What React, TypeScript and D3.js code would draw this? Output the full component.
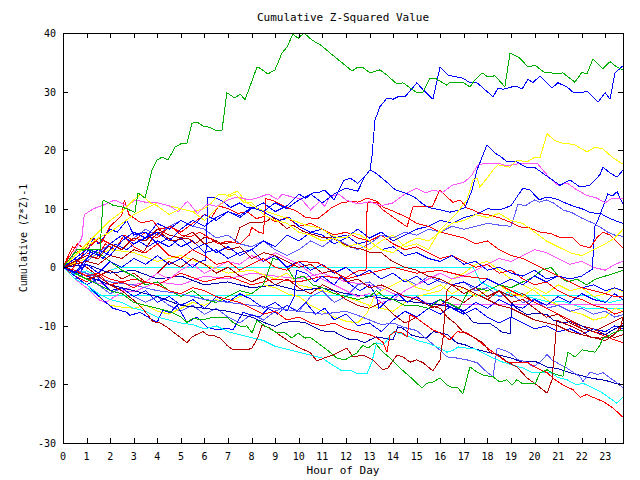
import React, { useEffect } from "react";
import * as d3 from "d3";

type Pt = [number, number];

const hourTicks: number[] = d3.range(0, 24);
const valueTicks: number[] = [-30, -20, -10, 0, 10, 20, 30, 40];
const titleText = "Cumulative Z-Squared Value";
const xLabel = "Hour of Day";
const yLabel = "Cumulative (Z*Z)-1";

const green1: Pt[] = [[0,0],[0.59,3],[1.57,3],[1.7,11.5],[2.12,10.6],[2.5,10.3],[3.05,9.4],[3.18,12.7],[3.48,11.8],[3.77,16.6],[3.99,18.3],[4.2,18.8],[4.45,18.3],[4.75,20.5],[5.05,21.2],[5.26,21.2],[5.47,24.6],[5.68,24.8],[5.94,24.1],[6.23,23.9],[6.53,23.3],[6.74,23.3],[6.95,29.8],[7.29,28.9],[7.51,29.6],[7.72,28.6],[8.23,34.2],[8.35,34],[8.69,33],[8.99,33.7],[9.29,36.6],[9.5,37.6],[9.75,39.8],[9.97,39.1],[10.22,40],[10.56,38.8],[10.98,37.8],[11.32,36.6],[11.75,35.2],[12.26,33.5],[12.47,34.1],[12.72,34.1],[13.02,33.2],[13.44,33.7],[13.74,32.8],[14.16,31.3],[14.42,31.5],[15.01,29.8],[15.27,29.9],[15.56,32.3],[15.78,32.3],[16.28,31.1],[16.41,31.6],[16.96,31.6],[17.26,30.8],[17.47,32],[17.77,33.2],[18.02,32.5],[18.32,32.7],[18.74,30.8],[18.96,36.6],[19.38,35.7],[19.72,34.2],[20.02,34.5],[20.44,33.2],[20.65,33.3],[20.87,33],[21.2,33.2],[21.71,31.6],[22.01,33.3],[22.22,33],[22.48,35.6],[22.9,33.9],[23.2,35.1],[23.49,34.2],[23.75,33.7]];
const blue1: Pt[] = [[0,0],[0.5,1.5],[1,3],[1.5,2],[2,4],[2.5,5.5],[3,4],[3.5,5],[4,6],[4.5,4.5],[5,6.5],[5.5,8],[6,7],[6.5,8.5],[7,9.5],[7.5,8.8],[8,10.2],[8.5,9.5],[9,11],[9.5,10],[10,11.5],[10.5,12.5],[11,11],[11.5,12.5],[12,13.5],[12.5,13],[12.8,15.5],[13.02,16.6],[13.1,18.8],[13.23,25.1],[13.44,27.4],[13.74,28.9],[14,28.7],[14.2,29.1],[14.5,29.1],[15.01,31.5],[15.27,30.3],[15.69,28.7],[15.99,34.2],[16.33,32.8],[16.96,32.3],[17.26,31.5],[17.56,31.5],[18.24,29.1],[18.45,30.6],[18.66,30.4],[19.04,30.8],[19.3,30.8],[19.47,30.4],[19.72,32.1],[19.93,31.5],[20.23,32.7],[20.74,30.6],[20.99,31.5],[21.37,30.8],[21.63,29.9],[22.01,29.8],[22.22,30.1],[22.69,28.2],[22.99,29.8],[23.2,28.7],[23.41,33.2],[23.75,34.4]];
const yellow1: Pt[] = [[0,0],[0.5,2],[1,4],[1.5,6],[2,8],[2.5,9.5],[3,11.5],[3.3,12.5],[3.7,11],[4,10.5],[4.5,9],[5,10],[5.5,9.5],[6,8],[6.5,10],[7,12],[7.3,12.5],[7.7,11],[8,11],[8.5,9],[9,8],[9.5,7.5],[10,6],[10.5,5.5],[11,4.5],[11.5,5],[12,3.5],[12.5,4],[13,3],[13.5,4.5],[14,5.5],[14.5,3.5],[15,4],[15.5,3],[15.99,6.4],[16.41,8.1],[16.71,9.3],[17.13,11.5],[17.39,14.9],[17.56,15.2],[17.68,13.7],[17.98,15.2],[18.24,16.6],[18.45,17.5],[18.96,17.1],[19.25,18.3],[19.68,18],[20.02,18.8],[20.23,18.7],[20.53,22.8],[20.87,21.6],[21.16,21.2],[21.42,21.1],[21.71,20.9],[22.22,19.7],[22.56,20.5],[22.9,20.2],[23.32,18.7],[23.75,17.6]];
const magenta1: Pt[] = [[0,0],[0.4,2],[0.8,5],[0.9,9],[1.3,10],[1.7,10.6],[2.2,11.5],[2.7,10.5],[3.1,11.5],[3.6,11],[4,11],[4.5,10.5],[4.9,9.5],[5.2,11],[5.3,11.2],[5.7,9.2],[6.1,10.8],[6.5,10.4],[7,11.5],[7.4,12],[7.9,11.5],[8.2,11.8],[8.7,12.5],[9.1,11.6],[9.3,12.5],[9.7,12],[10.1,11.7],[10.5,9.8],[10.9,11.3],[11.1,10.4],[11.3,12],[11.7,12.5],[12,11.5],[12.5,10.8],[13,11.2],[13.5,10.5],[14,11],[14.5,12.5],[15,13.5],[15.4,12.7],[15.7,13.2],[16.1,12.8],[16.5,14],[17,14.5],[17.3,15.5],[17.6,17.5],[18,17.8],[18.45,17.8],[18.8,17.3],[19.2,17.6],[19.5,17.8],[20.1,17.8],[20.65,15.2],[21,14],[21.37,14.4],[21.8,13.2],[22.2,12.3],[22.65,11.8],[23,11],[23.28,11.8],[23.75,11.8]];
const blue2: Pt[] = [[0,0],[0.5,-1],[1,1.5],[1.5,3],[2,2],[2.5,4.5],[3,6],[3.5,5],[4,7.5],[4.5,6.5],[5,8],[5.5,7],[6,9],[6.5,8],[7,9.5],[7.5,8.5],[8,10],[8.5,11],[9,9.5],[9.5,10.5],[10,12.5],[10.3,11.8],[10.6,12.7],[10.8,12.7],[11.1,13.2],[11.5,11.5],[11.9,14.8],[12.2,15.2],[12.5,14.3],[12.9,16],[13.02,16.6],[13.3,16],[13.8,14.3],[14.1,13.2],[14.5,12.7],[14.9,12],[15.2,11],[15.5,10.2],[16,9.8],[16.4,9.4],[16.8,9.8],[17.05,10.2],[17.35,13.2],[17.56,16.6],[17.98,20.9],[18.32,19.5],[18.53,19],[18.83,18],[19.25,18],[19.68,17],[20.02,17],[20.65,15.2],[21.08,14],[21.5,14.9],[21.93,13.7],[22.35,14],[22.77,15.8],[22.9,17.1],[23.2,16.1],[23.5,15.4],[23.75,16.6]];
const darkred1: Pt[] = [[0,0],[0.5,-1],[1,-2],[1.5,-1.5],[2,-3],[2.5,-4],[3.14,-6.1],[3.35,-6.9],[3.82,-9.3],[4.11,-9.5],[4.41,-10.2],[4.66,-11],[4.96,-11.9],[5.26,-12.9],[5.47,-11.9],[5.6,-11.6],[5.94,-11],[6.15,-11.6],[6.36,-11.6],[6.66,-12.1],[6.95,-13.3],[7.21,-14.1],[7.8,-14.1],[8.02,-13.8],[8.27,-11.9],[8.44,-9.9],[8.78,-10.4],[9.2,-11.6],[9.63,-12.8],[10.05,-13.8],[10.47,-14.5],[10.77,-16],[11.2,-15.3],[11.45,-15],[12.04,-13.8],[12.3,-15.3],[12.72,-15],[13.15,-15.8],[13.57,-17.5],[13.78,-17.2],[14.16,-15],[14.42,-15.3],[14.72,-16.2],[15.01,-15.8],[15.27,-16.3],[15.69,-17.7],[15.99,-15.8],[16.12,-11.9],[16.2,-7.3],[16.29,-3.9],[16.5,-3],[17,-4.5],[17.5,-3.5],[18,-5],[18.5,-4],[19,-6],[19.5,-5.5],[20,-7],[20.5,-8.5],[21,-8],[21.5,-9.5],[22,-10.5],[22.5,-11],[23,-10],[23.5,-9],[23.75,-8.5]];
const darkred2: Pt[] = [[0,0],[0.5,1],[1,2],[1.5,1.5],[2,4],[2.5,3],[3,5],[3.5,4.5],[4,6.5],[4.5,5.5],[5,5],[5.5,6],[6,4],[6.5,4.5],[7,3],[7.5,3.5],[8,1.5],[8.5,2.5],[9,2],[9.5,1],[10,0],[10.5,0.5],[11,-1],[11.5,-0.5],[12,-2.5],[12.5,-2],[13,-3.5],[13.5,-3],[14,-4],[14.5,-5],[15,-5.5],[15.5,-6.5],[16,-7],[16.29,-8.5],[16.62,-9.5],[16.96,-11],[17.39,-11.9],[17.81,-12.9],[18.11,-14.5],[18.45,-15],[18.87,-16.2],[19.25,-17],[19.68,-18.9],[20.1,-20.1],[20.53,-21.5],[20.74,-19.2],[20.95,-9],[21.2,-9.5],[21.63,-10.2],[22.05,-11],[22.35,-11.9],[22.77,-12.1],[23.2,-11.9],[23.62,-10.7],[23.75,-8.5]];
const darkred3: Pt[] = [[0,0],[0.5,0.5],[1,1],[1.5,0.5],[2,2],[2.5,1.5],[3,3],[3.4,2.5],[3.8,5],[4.1,6],[4.6,4.5],[5.3,5],[5.6,4],[6,5.1],[6.3,4.9],[6.7,4],[7.3,4.3],[7.5,6.8],[7.9,7.6],[8.35,7.6],[8.65,7.9],[8.9,8.5],[9.2,7.6],[9.5,6.6],[9.75,7.2],[10.2,6.1],[10.6,5.6],[11,5.1],[11.4,5],[11.8,4.2],[12.2,3.4],[12.6,3.2],[13,2.6],[13.5,2.5],[13.9,1.2],[14.5,0],[15,-0.5],[15.5,-1.5],[16,-2],[16.5,-3],[17,-3.5],[17.5,-4.5],[18,-5.5],[18.5,-6.5],[19,-7],[19.5,-8],[20,-9],[20.5,-9.5],[21,-10],[21.5,-11],[22,-11.5],[22.5,-12],[23,-12.5],[23.4,-11.5],[23.75,-9.5]];
const darkred4: Pt[] = [[0,0],[0.5,1.5],[1,0],[1.5,-1.5],[2,-0.5],[2.5,-2],[3,-1],[3.5,-2.5],[4,-1],[4.5,1],[5,0],[5.5,1.5],[6,0.5],[6.5,-1],[7,0],[7.5,-1.5],[8,-2.5],[8.5,-1.5],[9,-3],[9.5,-2],[10,-3.5],[10.5,-4.5],[11,-3],[11.5,-4],[12,-5.5],[12.5,-6.5],[13,-7],[13.5,-6],[14,-8],[14.5,-9.5],[15,-8.5],[15.5,-7],[16,-6.5],[16.5,-5],[17,-6],[17.5,-4.5],[18,-5.5],[18.5,-4],[19,-5],[19.5,-4.5],[20,-6],[20.5,-7],[21,-8],[21.5,-9],[22,-10],[22.5,-10.5],[23,-11.5],[23.4,-12],[23.75,-11.5]];
const red1: Pt[] = [[0,0],[0.5,-0.5],[1,-1.5],[1.5,-1],[2,-2],[2.5,-2.5],[3,-3.5],[3.5,-2.5],[4,-3],[4.5,-4],[5,-4.5],[5.5,-3.5],[6,-4],[6.5,-5],[7,-5.5],[7.5,-6],[8,-7],[8.5,-8],[9,-7.5],[9.5,-9],[10,-8.5],[10.5,-9.5],[11,-10],[11.5,-9.5],[12,-10.5],[12.5,-11],[13,-11.5],[13.3,-12],[13.57,-12.8],[13.74,-14.5],[13.87,-11.6],[14.08,-11],[14.38,-11.2],[14.59,-11.9],[14.72,-8.1],[15.01,-8.7],[15.27,-9.5],[15.69,-10.7],[15.99,-11.2],[16.41,-12.4],[16.71,-11],[17.13,-11.2],[17.56,-12.4],[17.98,-13.7],[18.41,-15],[18.83,-16.2],[19.25,-16.3],[19.68,-16.2],[20.1,-17.2],[20.53,-18],[20.87,-19.2],[21.2,-20.1],[21.63,-20.9],[21.93,-22.2],[22.22,-21.7],[22.48,-22.2],[22.9,-22.9],[23.32,-24],[23.75,-25.6]];
const red2: Pt[] = [[0,0],[0.3,2],[0.6,4],[1,3],[1.5,5],[2,4],[2.5,5.5],[3,3.5],[3.5,2.5],[4,4],[4.5,2],[5,1.5],[5.5,3],[6,2],[6.5,0.5],[7,1],[7.5,-0.5],[8,0.5],[8.5,1.5],[9,0],[9.5,-0.5],[10,1],[10.8,0.8],[11.5,-0.8],[12,-1.8],[12.3,-1],[12.6,-0.5],[12.85,-0.5],[12.9,11],[13.3,11],[13.57,9.8],[14.16,8.1],[14.59,6.9],[14.84,10.3],[15.27,10.3],[15.65,10.3],[15.99,13.2],[16.28,12],[16.54,11.1],[16.84,11.5],[17.13,10.1],[17.39,9.8],[17.68,9.2],[18.11,8.9],[18.53,8.4],[18.96,7.7],[19.38,6.9],[19.8,6.7],[20.23,6],[20.65,5.8],[21.08,5.1],[21.63,5],[21.93,3.8],[22.35,3.3],[22.65,5.1],[22.9,6],[23.2,5.5],[23.49,4.3],[23.75,3.3]];
const red3: Pt[] = [[0,0],[0.4,3.5],[0.8,2],[1.2,5],[1.6,4],[2,7],[2.4,8.5],[2.5,9],[2.6,11.5],[2.8,9],[3.3,7.6],[3.8,8],[4.1,6.5],[4.6,7],[5,5.5],[5.4,5.2],[5.8,6],[6.2,5],[6.6,4],[7,4.5],[7.5,4],[7.9,5.5],[8,6.8],[8.3,6],[8.5,5.8],[8.6,11.7],[8.9,11.4],[9.5,10.2],[9.9,9.6],[10.3,8.5],[10.8,8.3],[11.1,9.2],[11.4,10.2],[11.8,11],[12.3,11.3],[12.5,11.1],[12.9,11.8],[13.3,11.3],[13.6,10.2],[14,9.6],[14.6,8.5],[15,7.5],[15.5,7],[16,6],[16.5,5.5],[17,5],[17.5,4],[18,4.5],[18.5,3],[19,2],[19.5,1.5],[20,0.5],[20.5,-0.5],[21,-1.5],[21.5,-2.5],[22,-3.5],[22.5,-4],[23,-4.5],[23.4,-5],[23.75,-5]];
const red4: Pt[] = [[0,0],[0.5,-1.5],[1,-2.5],[1.5,-1],[2,-3],[3,-2],[4,-3],[5,-1],[6,-2.5],[7,-1.5],[8,-3],[9,-2],[10,-2.5],[11,-1.5],[12,-2],[13,-1],[14,0],[15,-1],[16,-0.5],[17,-1.5],[18,-2],[18.5,-3],[19,-4],[19.5,-5],[20,-6],[20.5,-7],[21,-8],[21.5,-9],[22,-10.5],[22.5,-11],[23,-11.8],[23.4,-12.4],[23.75,-12.9]];
const red5: Pt[] = [[0,0],[0.3,-1],[0.6,1],[1,2.5],[1.4,1.5],[1.8,4],[2.2,3],[2.6,5.5],[3,4.5],[3.5,6],[4,5],[4.5,7],[5,6],[5.5,7.5],[6,9],[6.3,8.5],[6.6,10.5],[7,10],[7.4,9.2],[7.8,9.5],[8.2,8.3],[8.6,8.8],[9,7.8],[9.5,8.5],[10,7],[10.5,7.5],[11,6.5],[11.5,5.5],[12,6],[12.5,5],[13,4.5],[13.5,5.5],[14,4],[14.5,3],[15,3.5],[15.5,2.5],[16,1.5],[16.5,2],[17,1],[17.5,0],[18,0.5],[18.5,-1],[19,-0.5],[19.5,-2],[20,-3],[20.5,-2.5],[21,-4],[21.5,-5],[22,-5.5],[22.5,-6.5],[23,-7],[23.4,-8],[23.75,-7.5]];
const cyan1: Pt[] = [[0,0],[0.5,-2],[1,-3],[1.5,-4.5],[2,-5.5],[2.5,-6],[3,-7],[3.5,-7.5],[4,-8.5],[4.5,-9],[5,-9.5],[5.5,-9.8],[6,-10.5],[6.5,-10],[7,-11],[7.5,-11.5],[8,-12],[8.5,-12.5],[9,-13.5],[9.5,-14],[10,-14.5],[10.5,-15],[11,-15.5],[11.4,-16.6],[11.8,-17.6],[12.2,-17.6],[12.5,-18.2],[12.9,-18.1],[13.1,-16.2],[13.3,-12.9],[13.6,-13.2],[14,-11],[14.5,-11.5],[15,-12.5],[15.5,-13],[15.99,-13.8],[16.28,-14.5],[16.54,-14.2],[16.75,-13.6],[17.13,-13.8],[17.39,-13.8],[17.81,-14.6],[18.24,-15.5],[18.66,-16.2],[19.08,-16.7],[19.5,-17.2],[19.93,-18],[20.23,-18],[20.65,-17.9],[20.99,-18.8],[21.37,-19.2],[21.8,-20.1],[22.05,-19.8],[22.48,-20.6],[22.9,-21.5],[23.49,-23.2],[23.75,-22.2]];
const cyan2: Pt[] = [[0,0],[0.5,-1.2],[1,-0.6],[1.5,-1.5],[2,-0.5],[2.4,0],[17.4,0],[17.7,-2.5],[18.2,-3.5],[18.7,-4.5],[19.2,-4],[19.7,-5],[20.2,-5.5],[20.7,-6],[21.2,-5.8],[21.7,-6.5],[22.2,-7],[22.6,-7.1],[23.75,-7.1]];
const cyan3: Pt[] = [[0,0],[0.5,-2],[1,-3.5],[1.5,-4.8],[22.4,-4.8],[22.7,-5.5],[23.2,-6],[23.75,-5.5]];
const lightblue1: Pt[] = [[0,0],[1,-1],[2,-2.5],[3,-3],[4,-4],[5,-4.5],[6,-5.5],[7,-6],[8,-6.5],[9,-7],[10,-7.5],[11,-8],[12,-7.5],[12.5,-8.2],[13,-9],[13.5,-9.8],[14,-9.5],[14.5,-10.3],[15,-10.8],[15.5,-12.5],[16,-14.2],[16.28,-15.3],[16.71,-15.5],[17.13,-15.8],[17.56,-16.3],[17.98,-17.9],[18.24,-18.7],[18.41,-13.8],[18.66,-14.1],[18.96,-14.6],[19.3,-15.8],[19.68,-16.2],[19.93,-17],[20.23,-16.2],[20.53,-14.9],[20.74,-15.8],[20.95,-16.3],[21.37,-17.2],[21.63,-17.9],[21.93,-18.7],[22.05,-19.5],[22.35,-17.9],[22.65,-18.3],[22.9,-18],[23.2,-18.9],[23.49,-19.7],[23.75,-20.6]];
const lightblue2: Pt[] = [[0,0],[0.5,-1],[1,1],[1.5,2.5],[2,4],[2.5,3],[3,5],[3.5,6.5],[4,5.5],[4.5,7],[5,8],[5.5,7],[6,6.5],[6.5,5],[7,5.5],[7.5,4],[8,3.5],[8.5,4.5],[9,3],[9.5,2],[10,3],[10.5,4.5],[11,3.5],[11.5,5],[12,4],[12.5,3],[13,4],[13.5,5.5],[14,5],[14.5,6],[15,5.5],[15.5,6.5],[16,6],[16.5,7],[17,6.5],[17.5,7],[18,7.5],[18.5,7.2],[19,7],[19.3,10.8],[19.6,10.5],[20,11.5],[20.2,11.1],[20.5,11.5],[20.8,11],[21.2,9.8],[21.6,9.3],[22,8.4],[22.5,7.5],[22.8,6.8],[23.1,6],[23.4,5.5],[23.75,5.3]];
const lightblue3: Pt[] = [[0,0],[0.5,-2],[1,-1],[1.5,-3],[2,-4.5],[2.5,-3.5],[3,-5],[3.5,-6],[4,-5],[4.5,-6.5],[5,-7.5],[5.5,-6.5],[6,-8],[6.5,-7],[7,-8.5],[7.5,-9.5],[8,-8],[8.5,-9],[9,-7.5],[9.5,-6.5],[10,-7.5],[10.5,-5],[11,-4],[11.5,-6],[12,-5],[12.5,-3],[13,-2.5],[13.5,-4],[14,-3],[14.5,-2],[15,-3],[15.5,-1.5],[16,-2.5],[16.5,-3],[17,-2.5],[17.5,-4],[18,-3.5],[18.5,-5],[19,-4.5],[19.5,-6],[20,-5.5],[20.5,-7],[21,-6.5],[21.5,-7.5],[22,-7],[22.5,-8],[23,-7.5],[23.4,-8.5],[23.75,-8.1]];
const navy1: Pt[] = [[0,0],[1,-1.5],[2,-3],[3,-4],[4,-5],[5,-6.5],[6,-7],[7,-7.5],[8,-8.5],[8.4,-9.2],[8.7,-9.7],[9,-10.1],[9.3,-9.5],[9.6,-9.3],[10,-9.3],[10.3,-9.5],[10.6,-10.1],[10.9,-10.7],[11.2,-11],[11.5,-11],[11.9,-11.9],[12.2,-12.4],[12.5,-12.4],[12.8,-12.9],[13,-12.4],[13.3,-11.9],[13.6,-12.1],[14,-12.4],[14.2,-10.2],[14.4,-10.4],[14.8,-11.6],[15.1,-11.9],[15.4,-12.1],[15.7,-11],[16,-11.2],[16.3,-11.5],[16.7,-12.9],[17.1,-13.3],[17.5,-14],[18,-14.5],[18.5,-15],[19,-15.5],[19.5,-16.2],[20,-16],[20.5,-17],[21,-17.3],[21.5,-18],[22,-18.5],[22.5,-19],[23,-19.3],[23.4,-19.8],[23.75,-20]];
const navy2: Pt[] = [[0,0],[1,0.5],[2,-1],[3,-0.5],[4,-2],[5,-1.5],[6,-3],[7,-2.5],[8,-3.5],[9,-3],[10,-4],[11,-3.5],[12,-4.5],[13,-5],[14,-5.5],[15,-6],[15.99,-6.4],[16.41,-6.8],[16.84,-7.3],[17.13,-8.1],[17.39,-9.4],[17.68,-9.6],[18.11,-9.6],[18.41,-10.4],[18.62,-11.1],[18.96,-11.3],[19.04,-6.2],[19.25,-7],[19.68,-8.1],[20.1,-7.8],[20.53,-8.1],[20.78,-9],[21.08,-9.4],[21.29,-9.4],[21.5,-9.3],[22,-10],[22.5,-11],[23,-11.5],[23.4,-10.5],[23.75,-10]];
const green2: Pt[] = [[0,0],[0.5,-1],[1,-2],[1.5,-3],[2,-4],[2.5,-4.5],[3,-6],[3.5,-6.5],[4,-7],[4.5,-7.5],[5,-8.5],[5.26,-9.4],[5.51,-8.7],[5.94,-9],[6.36,-8.5],[6.95,-8.5],[7.21,-9.4],[7.59,-10.2],[7.8,-10],[8.02,-11.2],[8.23,-9],[8.48,-9.8],[9.08,-11.2],[9.41,-11.2],[9.71,-12.1],[9.97,-11.2],[10.26,-12.1],[10.47,-11.9],[10.77,-12.8],[11.2,-14.1],[11.62,-15.5],[11.96,-15.8],[12.17,-15.3],[12.47,-14.6],[12.72,-13.3],[12.93,-13.8],[13.23,-12.9],[13.57,-14.5],[13.87,-15.5],[14.29,-17.2],[14.72,-18.7],[15.22,-20.6],[15.44,-19.8],[15.69,-19.6],[15.99,-18.9],[16.28,-20.1],[16.54,-20.6],[16.75,-20.6],[16.96,-21.6],[17.26,-17],[17.56,-17.9],[17.81,-18.4],[18.24,-18.7],[18.53,-19.6],[18.83,-19.2],[19.04,-20.1],[19.25,-19.2],[19.5,-19.9],[20.02,-19.9],[20.23,-18],[20.53,-17.5],[20.74,-18],[20.99,-18.4],[21.2,-18.6],[21.42,-14.5],[21.71,-15.3],[22.01,-14.1],[22.56,-14.5],[22.77,-13.3],[22.9,-12.1],[23.07,-11.9],[23.32,-11.2],[23.75,-10.7]];
const green3: Pt[] = [[0,0],[0.5,2.5],[1,3],[1.5,2.5],[2,1],[2.5,-0.5],[3,-1.5],[3.5,-3],[4,-2.5],[4.5,-4],[5,-5],[5.5,-4],[6,-5.5],[6.5,-6],[7,-5],[7.5,-4],[8,-4.5],[8.5,-3],[8.9,1.5],[9.2,1.2],[9.5,0],[9.8,-2],[10.2,-1.5],[10.6,-3],[11,-3.5],[11.5,-4.5],[12,-5],[12.5,-5.5],[13,-5],[13.3,-4],[13.6,-5],[14,-5.5],[14.5,-6.5],[15,-6.5],[15.5,-7],[16,-5.5],[16.3,-6],[16.8,-7],[17.2,-4],[17.5,-3.5],[18,-4],[18.5,-3],[19,-3.5],[19.5,-2.5],[20,-1.5],[20.3,-0.5],[20.7,0],[21,-1.5],[21.4,-2.5],[21.8,-2],[22.2,-3],[22.6,-2],[23,-1.5],[23.4,-1],[23.75,-0.5]];
const yellow2: Pt[] = [[0,0],[0.5,-1.5],[1,-3],[1.5,-5],[2,-6.5],[2.5,-6.8],[3,-7],[3.5,-6.5],[4,-7.5],[4.5,-8],[5,-7],[5.5,-6],[6,-6.5],[6.5,-5.5],[7,-6],[7.5,-5],[8,-4.5],[8.5,-3],[9,-3.5],[9.5,-4.5],[10,-5],[10.5,-6.5],[11,-7.5],[11.5,-8.5],[12,-9.2],[12.5,-9.5],[12.9,-7.8],[13.2,-5],[13.5,-4],[14,-3],[14.5,-2],[15,-3.5],[15.5,-4],[16,-3],[16.5,-4.5],[17,-3.5],[17.5,-5],[18,-4],[18.5,-3],[19,-4.5],[19.5,-5],[20,-3.5],[20.5,-4.5],[21,-3],[21.5,-4],[22,-3.5],[22.5,-5],[23,-4.5],[23.4,-3.5],[23.75,-4.2]];
const yellow3: Pt[] = [[0,0],[0.5,2],[1,3.5],[1.5,5],[2,6],[2.5,7.5],[3,9],[3.5,10],[4,11],[4.5,10.5],[5,10],[5.5,9.5],[6,10],[6.3,11],[6.6,12.5],[7,12.3],[7.4,13],[7.8,11],[8.2,10],[8.6,9.6],[9,9],[9.4,8.5],[9.9,7.8],[10.3,7.2],[10.8,6.8],[11.1,6.2],[11.5,5.2],[12,5],[12.3,5.8],[12.6,5.5],[13,4.5],[13.5,3],[14,2.5],[14.5,4],[15,5],[15.5,4.5],[16,6],[16.5,7.5],[17,8],[17.5,9],[18,8.5],[18.5,9.2],[19,8],[19.5,7.5],[20,6],[20.5,4.5],[21,3.5],[21.5,2.5],[22,2],[22.5,3],[23,4],[23.4,5],[23.75,6.5]];
const yellow4: Pt[] = [[0,0],[1,1.5],[2,3],[3,2.5],[4,1],[5,2],[6,0.5],[7,-1],[8,-0.5],[9,-2],[9.5,-1],[10,-3],[11,-4],[12,-5],[13,-6.5],[14,-7.5],[14.5,-6],[15,-5],[16,-4],[16.5,-2],[17,-1],[17.5,0.5],[18,1],[18.5,-0.5],[19,-2],[19.5,-3],[20,-4],[20.5,-5.5],[21,-6.5],[21.5,-7.5],[22,-8],[22.5,-9],[23,-8.5],[23.4,-7],[23.75,-7.5]];
const magenta2: Pt[] = [[0,0],[0.5,-1],[1,-2],[1.5,-2.8],[2,-3],[2.5,-4],[3,-4.2],[4,-2.5],[5,-3],[6,-1.5],[7,-2],[8,-1],[9,-1.5],[10,-2],[11,-1],[12,-2.5],[13,-3],[13.5,-3.5],[14,-4.5],[14.5,-5],[15,-5.2],[15.5,-6.2],[16,-6.3],[23.75,-6.3]];
const magenta3: Pt[] = [[0,0],[0.5,-2],[1,-3.5],[1.5,-5.5],[1.8,-6],[2.2,-5],[2.6,-4],[3,-3],[3.5,-2.5],[4,-1],[4.5,-2],[5,-0.5],[5.5,0.5],[6,-1],[6.5,0],[7,1],[7.5,0.5],[8,2],[8.5,1],[9,2.5],[9.5,1.5],[10,0.5],[10.5,-1],[11,-2],[11.5,-3],[12,-4],[12.5,-5],[13,-4.5],[13.5,-6],[14,-5.5],[14.5,-4],[15,-3],[15.5,-2],[16,-1],[16.5,-2],[17,-1.5],[17.5,-0.5],[18,0.5],[18.5,1.5],[19,1],[19.5,2],[20,3],[20.5,2.5],[21,1.5],[21.5,0.5],[22,1],[22.5,0],[23,-0.5],[23.4,0.5],[23.75,1]];
const blue3: Pt[] = [[0,0],[0.4,2],[0.8,-0.5],[1.2,3],[1.7,1.5],[2.2,4],[2.7,3],[3.2,4.5],[3.6,3.5],[4,4.5],[4.5,3.5],[5,5],[5.5,3],[6,4],[6.5,2.5],[7,3.5],[7.5,2],[8,3],[8.5,1],[9,2],[9.5,0],[10,1],[10.5,-0.5],[11,0.5],[11.5,-1],[12,0],[12.5,-1.5],[13,-0.5],[13.5,-2],[14,-1],[14.5,-2.5],[15,-1.5],[15.5,-3],[16,-2],[16.5,-3],[17,-2.5],[17.5,-3.5],[18,-2],[18.5,-3],[19,-2],[19.5,-3],[20,-1.5],[20.5,-2.5],[21,-1.5],[21.5,-2],[22,-1.5],[22.45,-0.3],[22.55,7],[22.7,8.2],[22.9,10.3],[23.1,12.5],[23.3,12.2],[23.5,12.9],[23.75,10.8]];
const blue4: Pt[] = [[0,0],[0.5,1],[1,2.5],[1.3,5],[1.5,4],[2,6.5],[2.3,6],[2.7,8],[3,5.5],[3.5,6],[4,4],[4.5,5],[5,3.5],[5.5,4.5],[6,2.5],[6.5,3],[7,1.5],[7.5,2.5],[8,3],[8.5,4.5],[9,3.5],[9.5,5.5],[10,4.5],[10.5,6],[11,5.5],[11.5,4],[12,5],[12.5,6.5],[13,5],[13.5,6],[14,4.5],[14.5,5.5],[15,6.5],[15.5,7],[16,8],[16.5,7.5],[17,8.5],[17.5,9],[18,10],[18.5,9.8],[19,10.5],[19.5,13.5],[19.8,13.2],[20.2,11.5],[20.5,12],[20.9,11.7],[21.3,11],[21.6,10.5],[22,10],[22.4,9.3],[22.8,9.2],[23.1,8.5],[23.4,8],[23.75,7.5]];
const blue5: Pt[] = [[0,0],[0.5,-1],[1,0.5],[1.5,-1],[2,1],[2.5,0],[3,1.5],[3.5,0.5],[4,2],[4.5,0.5],[5,1.5],[5.5,0],[5.8,1],[6.05,1.2],[6.15,12],[6.4,12],[6.8,11.2],[7.1,10.2],[7.5,11],[7.8,10.2],[8.3,10],[8.7,9],[9.2,8],[9.6,8.5],[10,7],[10.5,6],[11,6.5],[11.5,5],[12,5.5],[12.5,4],[13,4.5],[13.5,3],[14,3.5],[14.5,2],[15,2.5],[15.5,1.5],[16,1],[16.5,2],[17,0.5],[17.5,1],[18,-0.5],[18.5,0],[19,-1],[19.5,-1.5],[20,-0.5],[20.5,-2],[21,-1.5],[21.5,-2.5],[22,-3.5],[22.5,-3],[23,-4],[23.4,-3.5],[23.75,-4]];
const blue6: Pt[] = [[0,0],[0.5,-1.5],[1,-3],[1.7,-5.6],[2.12,-7],[2.71,-7.7],[2.84,-8.2],[3.27,-7.7],[3.69,-8.7],[3.99,-9.4],[4.24,-7.3],[4.54,-7.8],[4.83,-6.5],[5.26,-9.4],[5.68,-8.5],[6.11,-10.2],[6.53,-10.7],[6.95,-10.4],[7.21,-10.7],[7.63,-7.7],[8.02,-8.2],[8.35,-8.5],[8.7,-7],[9.1,-8],[9.5,-6.5],[9.9,-7.5],[10.3,-6],[10.7,-8],[11.1,-7],[11.5,-9],[12,-8],[12.5,-10],[13,-9.5],[13.5,-11],[14,-9],[14.5,-7.5],[15,-8.5],[15.5,-7],[16,-8],[16.5,-6.5],[17,-7.5],[17.5,-6],[18,-7],[18.5,-5.5],[19,-6.5],[19.5,-7],[20,-5.5],[20.5,-6.5],[21,-5],[21.5,-6],[22,-4.5],[22.5,-5.5],[23,-6],[23.4,-4.5],[23.75,-5.5]];
const blue7: Pt[] = [[0,0],[0.5,-2],[1,-3],[1.5,-2],[2,-4],[2.5,-3.5],[3,-5],[3.5,-4],[4,-6],[4.5,-5],[5,-6.5],[5.5,-5.5],[6,-7],[6.5,-5],[7,-6],[7.5,-4.5],[8,-5.5],[8.5,-7],[9,-6],[9.5,-7.5],[9.8,-5],[9.9,-0.5],[10.3,-1],[10.7,-2.5],[11,-1.5],[11.5,-3],[11.8,-1.5],[12.2,-3],[12.6,-4],[13,-3],[13.3,-5],[13.4,-7],[13.8,-5.5],[14.2,-4.5],[14.6,-6],[15,-5],[15.5,-6.5],[16,-5.5],[16.5,-7],[17,-8],[17.5,-7],[18,-8.5],[18.5,-9.5],[19,-8.5],[19.5,-9.5],[20,-10.5],[20.5,-10],[21,-11],[21.5,-10.5],[22,-11.5],[22.5,-10.5],[23,-11],[23.4,-10],[23.75,-10.5]];

const seriesData: Pt[][] = [
  cyan2, cyan3, magenta2, yellow4, lightblue3, darkred4, navy2, red4, magenta3,
  yellow2, blue7, blue6, green3, red5, lightblue2, blue4, blue5, blue3,
  darkred3, red3, red2, yellow3, navy1, lightblue1, cyan1, red1, darkred2,
  darkred1, green2, magenta1, blue2, yellow1, blue1, green1,
];
const seriesColors: string[] = [
  "#00ffff", "#00ffff", "#ff55ff", "#ffff00", "#5a5aff", "#b00000", "#0000b0", "#ff0000", "#ff55ff",
  "#ffff00", "#0000ff", "#0000ff", "#00b000", "#ff0000", "#5a5aff", "#0000ff", "#0000ff", "#0000ff",
  "#b00000", "#ff0000", "#ff0000", "#ffff00", "#0000b0", "#5a5aff", "#00ffff", "#ff0000", "#b00000",
  "#b00000", "#00b000", "#ff55ff", "#0000ff", "#ffff00", "#0000ff", "#00b000",
];

const W = 640, H = 480;
const M = { left: 63, right: 623, top: 33, bottom: 443 };
const FONT = "'DejaVu Sans Mono', 'Liberation Mono', monospace";

export default function App() {
  useEffect(() => {
    document.body.style.margin = "0";
  }, []);
  const x = d3.scaleLinear().domain([0, 23.75]).range([M.left, M.right]);
  const y = d3.scaleLinear().domain([-30, 40]).range([M.bottom, M.top]);
  const line = d3.line<Pt>().x((d) => x(d[0])).y((d) => y(d[1]));
  const tk = 5;
  return (
    <svg width={W} height={H} style={{ display: "block", background: "#fff" }}>
      <rect x={0} y={0} width={W} height={H} fill="#fff" />
      <g shapeRendering="crispEdges">
        {seriesData.map((s, i) => (
          <path key={i} d={line(s) || ""} fill="none" stroke={seriesColors[i]} strokeWidth={1} />
        ))}
      </g>
      <g shapeRendering="crispEdges" stroke="#000" strokeWidth={1}>
        <rect x={M.left} y={M.top} width={M.right - M.left} height={M.bottom - M.top} fill="none" />
        {hourTicks.slice(1).map((h) => (
          <g key={h}>
            <line x1={Math.round(x(h))} x2={Math.round(x(h))} y1={M.bottom} y2={M.bottom - tk} />
            <line x1={Math.round(x(h))} x2={Math.round(x(h))} y1={M.top} y2={M.top + tk} />
          </g>
        ))}
        {valueTicks.map((v) => (
          <g key={v}>
            <line x1={M.left} x2={M.left + tk} y1={Math.round(y(v))} y2={Math.round(y(v))} />
            <line x1={M.right} x2={M.right - tk} y1={Math.round(y(v))} y2={Math.round(y(v))} />
          </g>
        ))}
      </g>
      <g fontFamily={FONT} fontSize={10} fill="#000">
        {hourTicks.map((h) => (
          <text key={h} x={x(h)} y={460} textAnchor="middle">{h}</text>
        ))}
        {valueTicks.map((v) => (
          <text key={v} x={56} y={y(v) + 4} textAnchor="end">{v}</text>
        ))}
        <text x={343} y={21} textAnchor="middle" fontSize={11}>{titleText}</text>
        <text x={343} y={474} textAnchor="middle" fontSize={11}>{xLabel}</text>
        <text transform={`translate(27,${238}) rotate(-90)`} textAnchor="middle">{yLabel}</text>
      </g>
    </svg>
  );
}
